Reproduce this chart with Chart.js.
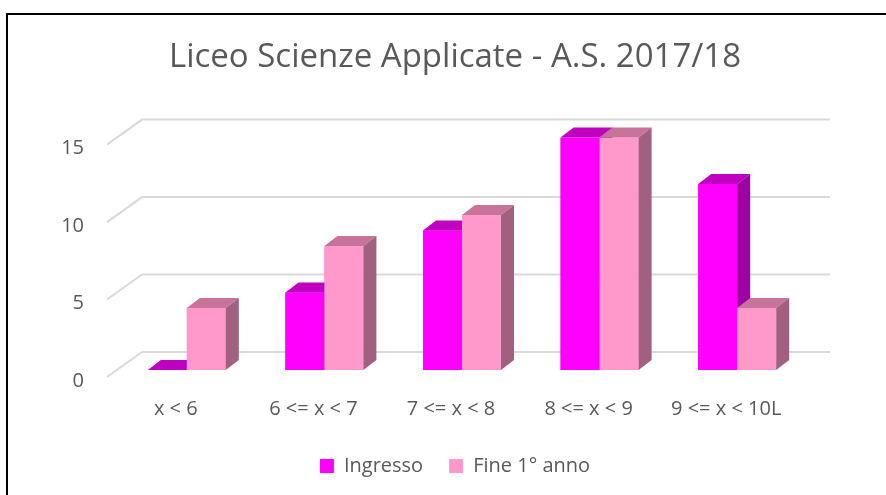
<!DOCTYPE html>
<html>
<head>
<meta charset="utf-8">
<script src="https://cdn.jsdelivr.net/npm/chart.js@4"></script>
<style>
  html, body { margin: 0; padding: 0; background: #fff; overflow: hidden; }
</style>
</head>
<body>
<canvas id="myChart" width="910" height="495"></canvas>
<script>
const categories = ['x < 6', '6 <= x < 7', '7 <= x < 8', '8 <= x < 9', '9 <= x < 10L'];
const ingresso = [0, 5, 9, 15, 12];
const fineAnno = [4, 8, 10, 15, 4];
const yTicks = [0, 5, 10, 15];

const textColor = '#595959';
const font = 'Open Sans';

// colours for the fake 3D faces: [top, side]
const faces = [['#C000C0', '#A000A0'], ['#C8749A', '#A26080']];
const DX = 13, DY = 10;

const frame3d = {
  id: 'frame3d',
  beforeDraw(chart) {
    const ctx = chart.ctx;
    ctx.save();
    ctx.fillStyle = '#fff';
    ctx.fillRect(0, 0, chart.width, chart.height);
    ctx.strokeStyle = '#000';
    ctx.lineWidth = 2;
    ctx.strokeRect(7, 14, 895, 520);
    ctx.restore();
  },
  beforeDatasetsDraw(chart) {
    const ctx = chart.ctx;
    const y = chart.scales.y;
    const {left, right} = chart.chartArea;
    ctx.save();
    ctx.strokeStyle = '#D9D9D9';
    ctx.lineWidth = 2;
    yTicks.forEach(v => {
      const p = y.getPixelForValue(v);
      ctx.beginPath();
      ctx.moveTo(left - 11, p + 7);
      ctx.lineTo(left + 24, p - 18);
      ctx.lineTo(right + 24, p - 18);
      ctx.stroke();
    });
    ctx.restore();
  },
  // repaint each category left to right so later bars cover earlier side faces
  afterDatasetsDraw(chart) {
    const ctx = chart.ctx;
    ctx.save();
    categories.forEach((c, i) => {
      chart.data.datasets.forEach((ds, d) => {
        const bar = chart.getDatasetMeta(d).data[i];
        const {x, y, base, width} = bar.getProps(['x', 'y', 'base', 'width'], true);
        const l = x - width / 2, r = x + width / 2;
        const [topCol, sideCol] = faces[d];
        ctx.fillStyle = ds.backgroundColor;
        ctx.fillRect(l, y, width, base - y);
        ctx.fillStyle = topCol;
        ctx.beginPath();
        ctx.moveTo(l, y);
        ctx.lineTo(r, y);
        ctx.lineTo(r + DX, y - DY);
        ctx.lineTo(l + DX, y - DY);
        ctx.closePath();
        ctx.fill();
        if (base - y > 0.5) {
          ctx.fillStyle = sideCol;
          ctx.beginPath();
          ctx.moveTo(r, y);
          ctx.lineTo(r + DX, y - DY);
          ctx.lineTo(r + DX, base - DY);
          ctx.lineTo(r, base);
          ctx.closePath();
          ctx.fill();
        }
      });
    });
    ctx.restore();
  }
};

new Chart(document.getElementById('myChart'), {
  type: 'bar',
  data: {
    labels: categories,
    datasets: [
      {label: 'Ingresso', data: ingresso, backgroundColor: '#FF00FF', borderWidth: 0},
      {label: 'Fine 1° anno', data: fineAnno, backgroundColor: '#FF99CC', borderWidth: 0}
    ]
  },
  options: {
    responsive: false,
    animation: false,
    categoryPercentage: 0.567,
    barPercentage: 1,
    layout: {padding: {bottom: 9}},
    scales: {
      x: {
        grid: {display: false, drawTicks: false},
        border: {display: false},
        ticks: {color: textColor, font: {family: font, size: 20}, padding: 27, labelOffset: -11},
        afterFit: s => { s.height = 60; }
      },
      y: {
        min: 0,
        max: 15,
        grid: {display: false, drawTicks: false},
        border: {display: false},
        ticks: {stepSize: 5, color: textColor, font: {family: font, size: 20}, padding: 34, labelOffset: 11},
        afterFit: s => { s.width = 118; }
      },
      yRight: {
        position: 'right',
        display: true,
        grid: {display: false, drawTicks: false},
        border: {display: false},
        ticks: {display: false},
        afterFit: s => { s.width = 104; }
      }
    },
    plugins: {
      title: {
        display: true,
        text: 'Liceo Scienze Applicate - A.S. 2017/18',
        color: textColor,
        font: {family: font, size: 33, weight: 'normal'},
        padding: {top: 38, bottom: 60}
      },
      legend: {
        position: 'bottom',
        labels: {color: textColor, font: {family: font, size: 20}, boxWidth: 14, boxHeight: 14, padding: 26}
      },
      tooltip: {enabled: false}
    }
  },
  plugins: [frame3d]
});
</script>
</body>
</html>
